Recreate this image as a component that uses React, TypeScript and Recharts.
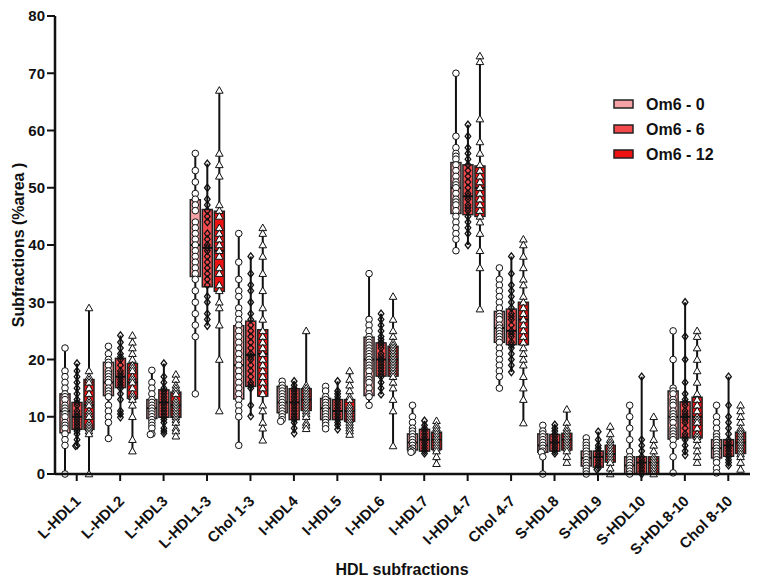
import { Bar, ComposedChart, XAxis, YAxis } from 'recharts'

const categories = [
  'L-HDL1', 'L-HDL2', 'L-HDL3', 'L-HDL1-3', 'Chol 1-3', 'I-HDL4', 'I-HDL5', 'I-HDL6',
  'I-HDL7', 'I-HDL4-7', 'Chol 4-7', 'S-HDL8', 'S-HDL9', 'S-HDL10', 'S-HDL8-10', 'Chol 8-10',
]
const groupNames = ['Om6 - 0', 'Om6 - 6', 'Om6 - 12']
const groupColors = ['#f5a2a5', '#f2494c', '#ee1212']
const yTicks = [0, 10, 20, 30, 40, 50, 60, 70, 80]

// Om6 - 0
const min0 = [0, 6.2, 6.9, 14, 5, 9.2, 7.9, 12, 3.8, 38.9, 15, 0, 0, 0, 0.2, 0.2]
const q1_0 = [7.2, 13.7, 9.7, 34.5, 13.1, 10.7, 9.5, 13.7, 4.2, 45.5, 23, 3.8, 1.4, 0, 6.1, 2.8]
const med0 = [11, 16, 11.5, 40, 19, 12.5, 11.5, 20, 5.5, 50, 25.5, 5, 2.8, 1.5, 10, 4.5]
const q3_0 = [14, 19.5, 13, 47.9, 25.9, 15.3, 13.2, 23.9, 7, 54.4, 28.4, 7, 4, 3, 14.5, 6]
const max0 = [22, 22.3, 18.1, 56, 42, 16.2, 15.3, 35, 12, 70, 36, 8.5, 6.3, 12, 25, 12]

// Om6 - 6
const min1 = [4.9, 9.9, 7.1, 25.9, 10.1, 7.1, 7.8, 13.9, 3.6, 40, 17.8, 3.6, 0.8, 0, 3.3, 1.5]
const q1_1 = [7.8, 15.1, 9.9, 32.7, 15.3, 9.5, 9.5, 17.1, 4, 45.3, 22.6, 4, 1.2, 0, 6.3, 3.1]
const med1 = [10, 17, 12.5, 39.5, 20.8, 12.5, 11, 20, 6, 48.5, 25, 5.5, 3, 2, 10, 5]
const q3_1 = [12.5, 20.2, 14.7, 46.2, 26.7, 14.9, 13, 22.9, 7.8, 54, 28.8, 6.9, 4, 3, 12.6, 6]
const max1 = [19.3, 24.2, 19.3, 54.2, 38, 16.2, 16.2, 28, 9.3, 61, 38, 8.6, 7.4, 17, 30, 17]

// Om6 - 12
const min2 = [0, 4, 6.6, 11, 5.9, 7.9, 6.9, 4.9, 1.8, 28.8, 8.9, 2, 0, 0, 2, 0.8]
const q1_2 = [7.8, 13.2, 9.9, 31.9, 13.6, 11.1, 9.2, 17.1, 4.3, 45, 22.6, 4.2, 2.1, 0, 6.3, 3.6]
const med2 = [12, 16, 12, 39, 21, 13, 11, 20, 6, 50, 27, 6, 3.5, 2, 10, 5.5]
const q3_2 = [16.5, 19.3, 14.3, 45.9, 25.2, 14.9, 13, 22.3, 7.3, 53.8, 30, 7.1, 5, 3, 13.4, 7.3]
const max2 = [29, 24.2, 17.4, 67, 43, 25, 18, 31, 9.3, 73, 41, 11.3, 8.3, 10, 25, 12]

// individual subjects, one list per category
const pts0 = [
  [22, 18, 17, 16, 15, 14, 13.5, 13, 12, 11.5, 11, 10.5, 10, 9, 8.5, 8, 7, 6, 5, 0],
  [22.3, 21, 20, 19.5, 19, 18, 17.5, 17, 16.5, 16, 15, 14.5, 14, 13.5, 12, 11, 10, 9, 6.2],
  [18.1, 16, 15, 14, 13, 12.5, 12, 11.5, 11, 10.5, 10, 9.5, 9, 8.5, 8, 7, 6.9],
  [56, 53, 51, 49, 48, 47, 46, 44, 43, 42, 41, 40, 39, 38, 37, 36, 35, 34, 32, 30, 28, 26, 24, 14],
  [42, 37, 34, 32, 31, 29, 28, 27, 26, 25, 24, 23, 22, 21, 20, 19, 18, 17, 16, 15, 14, 13, 12, 11, 10, 5],
  [16.2, 15.5, 15, 14.5, 14, 13.5, 13, 12.5, 12, 11.5, 11, 10.5, 10, 9.5, 9.2],
  [15.3, 14.5, 13.5, 13, 12.5, 12, 11.5, 11, 10.5, 10, 9.5, 9, 8.5, 7.9],
  [35, 27, 26, 25, 24, 23.5, 23, 22.5, 22, 21.5, 21, 20.5, 20, 19.5, 19, 18.5, 18, 17, 16.5, 16, 15, 14, 13.5, 12],
  [12, 10, 9, 8, 7.5, 7, 6.5, 6, 5.5, 5, 4.5, 4.2, 4, 3.8],
  [70, 59, 57, 56, 55.5, 55, 54, 53, 52, 51, 50.5, 50, 49, 48, 47.5, 47, 46, 45, 44, 43, 42, 41, 39],
  [36, 34, 33, 32, 31, 30, 29, 28, 27.5, 27, 26, 25.5, 25, 24.5, 24, 23.5, 23, 22, 21, 20, 19, 18, 17, 15],
  [8.5, 7.5, 7, 6.5, 6, 5.5, 5, 4.5, 4, 3.8, 3, 0],
  [6.3, 5.5, 5, 4.5, 4, 3.5, 3, 2.5, 2, 1.5, 1, 0.5, 0],
  [12, 10, 8, 6, 4, 3, 2.5, 2, 1.5, 1, 0.5, 0],
  [25, 20, 15, 14.5, 14, 13, 12.5, 12, 11, 10.5, 10, 9.5, 9, 8, 7.5, 7, 6.5, 6, 5, 3, 0.2],
  [12, 10, 9, 8, 7, 6.5, 6, 5.5, 5, 4.5, 4, 3.5, 3, 2.5, 2, 1, 0.2],
]
const pts1 = [
  [19.3, 18, 17, 16, 15, 14, 13, 12.5, 12, 11, 10.5, 10, 9.5, 9, 8.5, 8, 7.5, 7, 6, 5, 4.9],
  [24.2, 23, 22, 21, 20.5, 20, 19, 18, 17.5, 17, 16.5, 16, 15.5, 15, 14, 13, 11, 10.5, 9.9],
  [19.3, 17, 16, 15, 14.5, 14, 13.5, 13, 12.5, 12, 11.5, 11, 10.5, 10, 9.5, 9, 8, 7.5, 7.1],
  [54.2, 50, 48, 47, 46, 45, 44, 42, 41, 40, 39.5, 39, 38, 37, 36, 35, 34, 33, 31, 30, 28, 27, 25.9],
  [38, 35, 33, 32, 30, 28, 27, 26, 25, 24, 23, 22, 21, 20.5, 20, 19, 18, 17, 16, 15.5, 15, 12, 10.1],
  [16.2, 15.5, 15, 14.5, 14, 13.5, 13, 12.5, 12, 11.5, 11, 10.5, 10, 9.5, 9, 8, 7.1],
  [16.2, 14.5, 14, 13.5, 13, 12.5, 12, 11.5, 11, 10.5, 10, 9.5, 9, 8.5, 7.8],
  [28, 27, 26, 25, 24, 23.5, 23, 22.5, 22, 21, 20.5, 20, 19.5, 19, 18.5, 18, 17.5, 17, 16, 15, 13.9],
  [9.3, 8.5, 8, 7.5, 7, 6.5, 6, 5.5, 5, 4.5, 4, 3.6],
  [61, 59, 57, 56, 55, 54, 53, 52, 51, 50, 49, 48.5, 48, 47, 46.5, 46, 45, 44, 43, 42, 40],
  [38, 35, 33, 32, 31, 30, 29, 28, 27.5, 27, 26, 25, 24.5, 24, 23, 22.5, 22, 21, 20, 19, 17.8],
  [8.6, 8, 7.5, 7, 6.5, 6, 5.5, 5, 4.5, 4, 3.6],
  [7.4, 6, 5, 4.5, 4, 3.5, 3, 2.5, 2, 1.5, 1, 0.8],
  [17, 6, 5, 4, 3, 2.5, 2, 1.5, 1, 0.5, 0],
  [30, 24, 20, 16, 14, 13, 12.5, 12, 11, 10.5, 10, 9.5, 9, 8, 7, 6.5, 6, 5, 4, 3.3],
  [17, 12, 10, 9, 8, 7, 6, 5.5, 5, 4.5, 4, 3.5, 3, 2.5, 2, 1.5],
]
const pts2 = [
  [29, 18, 17, 16.5, 16, 15, 14, 13, 12.5, 12, 11, 10.5, 10, 9, 8.5, 8, 7.5, 7, 0],
  [24.2, 23, 22, 21, 20, 19, 18.5, 18, 17, 16.5, 16, 15, 14, 13.5, 13, 12, 10, 6, 4],
  [17.4, 16.5, 15.5, 15, 14.5, 14, 13, 12.5, 12, 11.5, 11, 10.5, 10, 9.5, 9, 8, 7.5, 6.6],
  [67, 56, 54, 52, 47, 46, 45, 43, 42, 41, 40, 39, 38, 36, 35, 33, 32, 30, 29, 26, 20, 11],
  [43, 42, 40, 38, 35, 32, 29, 27, 25, 24, 23, 22, 21, 20, 19, 18, 17, 16, 15, 14, 12, 11, 9, 8, 5.9],
  [25, 15.5, 15, 14.5, 14, 13.5, 13, 12.5, 12, 11.5, 11, 10.5, 10, 9, 8.5, 7.9],
  [18, 16.5, 15.5, 14.5, 13.5, 13, 12, 11.5, 11, 10.5, 10, 9.5, 9, 8.5, 8, 7.5, 6.9],
  [31, 27, 25, 24, 23, 22.5, 22, 21.5, 21, 20.5, 20, 19.5, 19, 18.5, 18, 17.5, 17, 16, 15, 13, 11, 4.9],
  [9.3, 8.5, 8, 7.5, 7, 6.5, 6, 5.5, 5, 4.5, 4, 3, 1.8],
  [73, 72, 62, 58, 56, 54, 53, 52, 51, 50, 49, 48, 47, 46, 45, 44, 42, 39, 36, 28.8],
  [41, 40, 38, 36, 34, 33, 31, 30, 29, 28, 27, 26, 25, 24, 23, 22, 21, 20, 19, 17, 15, 13, 8.9],
  [11.3, 9, 8, 7.5, 7, 6.5, 6, 5.5, 5, 4.5, 4, 3, 2],
  [8.3, 7, 6, 5.5, 5, 4.5, 4, 3.5, 3, 2.5, 2, 1, 0],
  [10, 8, 6, 5, 4, 3, 2.5, 2, 1.5, 1, 0.5, 0],
  [25, 24, 22, 20, 18, 16, 14, 13, 12, 11, 10, 9.5, 9, 8, 7, 6.5, 6, 5, 4, 3, 2],
  [12, 11, 10, 9, 8, 7.5, 7, 6.5, 6, 5.5, 5, 4.5, 4, 3.5, 3, 2, 0.8],
]

const mins = [min0, min1, min2]
const q1s = [q1_0, q1_1, q1_2]
const meds = [med0, med1, med2]
const q3s = [q3_0, q3_1, q3_2]
const maxs = [max0, max1, max2]
const points = [pts0, pts1, pts2]

const data = categories.map((name, i) => ({
  name,
  r0: [min0[i], max0[i]],
  r1: [min1[i], max1[i]],
  r2: [min2[i], max2[i]],
}))

const font = 'Arial, "Liberation Sans", Helvetica, sans-serif'

function Marker({ g, cx, cy }: { g: number; cx: number; cy: number }) {
  if (g === 0) {
    return <circle cx={cx} cy={cy} r={3.3} fill="#fff" stroke="#111" strokeWidth={1} />
  }
  if (g === 1) {
    const p = `${cx},${cy - 3.6} ${cx + 2.8},${cy} ${cx},${cy + 3.6} ${cx - 2.8},${cy}`
    return <polygon points={p} fill="none" stroke="#111" strokeWidth={1.3} />
  }
  const p = `${cx},${cy - 3.8} ${cx + 3.8},${cy + 2.8} ${cx - 3.8},${cy + 2.8}`
  return <polygon points={p} fill="#fff" stroke="#111" strokeWidth={1} />
}

function makeBox(g: number) {
  return (props: any) => {
    const { x, y, width, height } = props
    const i: number = props.index ?? categories.indexOf(props.payload?.name)
    const lo = mins[g][i]
    const hi = maxs[g][i]
    const top = Math.min(y, y + height)
    const k = hi > lo ? Math.abs(height) / (hi - lo) : 0
    const py = (v: number) => top + (hi - v) * k
    const cx = x + width / 2
    const boxTop = py(q3s[g][i])
    const boxBot = py(q1s[g][i])

    // points sit in one column; only near-duplicates get a small nudge
    const placed: { dx: number; y: number }[] = []
    for (const v of points[g][i]) {
      const vy = py(v)
      let dx = 0
      for (const c of [0, -1.5, 1.5]) {
        if (!placed.some((p) => p.dx === c && Math.abs(p.y - vy) < 2)) {
          dx = c
          break
        }
      }
      placed.push({ dx, y: vy })
    }

    return (
      <g>
        <line x1={cx} x2={cx} y1={py(hi)} y2={py(lo)} stroke="#111" strokeWidth={2} />
        <rect
          x={x}
          y={boxTop}
          width={width}
          height={Math.max(boxBot - boxTop, 1)}
          fill={groupColors[g]}
          stroke="#222"
          strokeWidth={1.5}
        />
        <line x1={x} x2={x + width} y1={py(meds[g][i])} y2={py(meds[g][i])} stroke="#111" strokeWidth={2} />
        {placed.map((p, j) => (
          <Marker key={j} g={g} cx={cx + p.dx} cy={p.y} />
        ))}
      </g>
    )
  }
}

const XTick = (props: any) => {
  const { x, y, payload } = props
  return (
    <g transform={`translate(${x + 5},${y + 19})`}>
      <text textAnchor="end" transform="rotate(-45)" fontSize={15} fontWeight="bold" fill="#111" fontFamily={font}>
        {payload.value}
      </text>
    </g>
  )
}

export default function App() {
  return (
    <div style={{ position: 'absolute', left: 0, top: 0, width: 758, height: 582, background: '#fff' }}>
      <ComposedChart
        width={758}
        height={582}
        data={data}
        margin={{ top: 16, right: 8, left: 0, bottom: 7 }}
        barGap={2}
      >
        <XAxis
          dataKey="name"
          interval={0}
          height={101}
          tick={<XTick />}
          tickSize={7}
          axisLine={{ stroke: '#111', strokeWidth: 2.5 }}
          tickLine={{ stroke: '#111', strokeWidth: 2 }}
        />
        <YAxis
          width={55}
          domain={[0, 80]}
          ticks={yTicks}
          tickSize={8}
          tickMargin={2}
          axisLine={{ stroke: '#111', strokeWidth: 2.5 }}
          tickLine={{ stroke: '#111', strokeWidth: 2 }}
          tick={{ fill: '#111', fontSize: 15, fontWeight: 'bold', fontFamily: font }}
        />
        {[0, 1, 2].map((g) => (
          <Bar
            key={g}
            dataKey={`r${g}`}
            name={groupNames[g]}
            barSize={10}
            fill={groupColors[g]}
            shape={makeBox(g)}
            isAnimationActive={false}
          />
        ))}
      </ComposedChart>

      <svg
        width={758}
        height={582}
        style={{ position: 'absolute', left: 0, top: 0, pointerEvents: 'none' }}
        fontFamily={font}
        fontWeight="bold"
        fill="#111"
      >
        <text x={0} y={0} fontSize={16} textAnchor="middle" transform="translate(24,245) rotate(-90)">
          Subfractions (%area )
        </text>
        <text x={402} y={575} fontSize={16} textAnchor="middle">
          HDL subfractions
        </text>
        {groupNames.map((n, g) => (
          <g key={n} transform={`translate(614,${104 + g * 25})`}>
            <rect x={0} y={-4} width={19} height={8} fill={groupColors[g]} stroke="#222" strokeWidth={1.5} />
            <text x={32} y={5.5} fontSize={16}>
              {n}
            </text>
          </g>
        ))}
      </svg>
    </div>
  )
}
